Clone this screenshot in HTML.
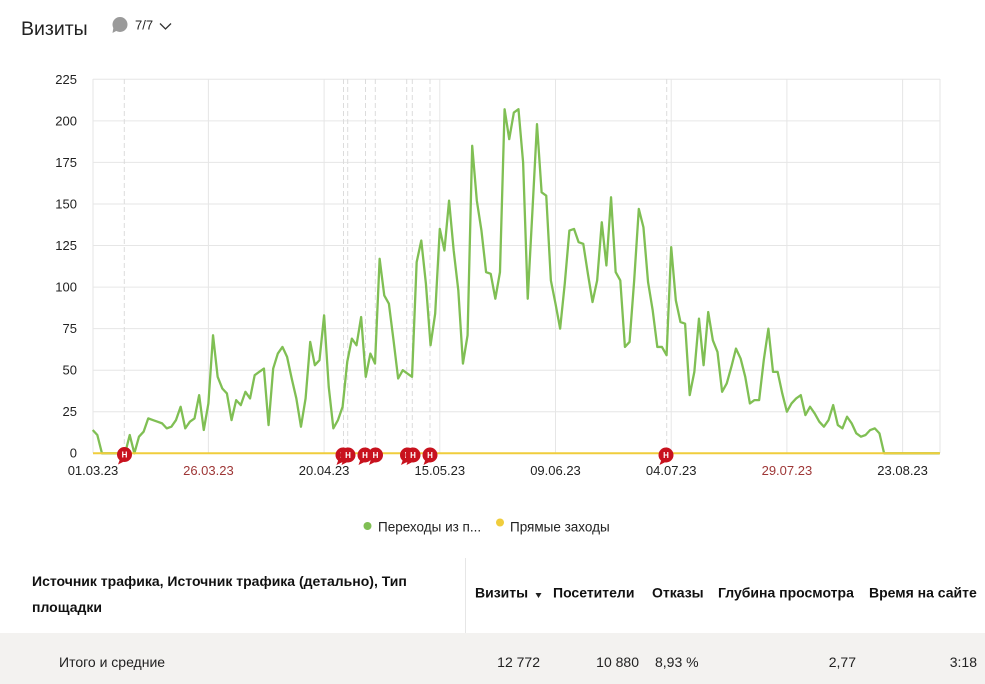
<!DOCTYPE html>
<html><head><meta charset="utf-8">
<style>
html,body{margin:0;padding:0;background:#fff;}
body{width:985px;height:684px;overflow:hidden;position:relative;font-family:"Liberation Sans","Noto Sans CJK SC",sans-serif;}
svg{position:absolute;left:0;top:0;}
</style></head>
<body>
<svg width="985" height="684" viewBox="0 0 985 684" xmlns="http://www.w3.org/2000/svg" font-family="Liberation Sans, Noto Sans CJK SC, sans-serif">
  <!-- header -->
  <text x="21" y="35" font-size="19.5" fill="#222">Визиты</text>
  <g fill="#9a9a9a">
    <circle cx="120" cy="24.5" r="7.5"/>
    <path d="M113.5 27 L112.5 33 L118 30 Z"/>
  </g>
  <text x="135" y="29.5" font-size="13" fill="#222">7/7</text>
  <path d="M160 23.5 L165.5 29 L171 23.5" fill="none" stroke="#333" stroke-width="1.3"/>

  <!-- horizontal grid -->
  <g stroke="#e6e6e6" stroke-width="1">
    <line x1="93" x2="940" y1="79.3" y2="79.3"/>
    <line x1="93" x2="940" y1="120.9" y2="120.9"/>
    <line x1="93" x2="940" y1="162.4" y2="162.4"/>
    <line x1="93" x2="940" y1="204" y2="204"/>
    <line x1="93" x2="940" y1="245.5" y2="245.5"/>
    <line x1="93" x2="940" y1="287.1" y2="287.1"/>
    <line x1="93" x2="940" y1="328.6" y2="328.6"/>
    <line x1="93" x2="940" y1="370.2" y2="370.2"/>
    <line x1="93" x2="940" y1="411.7" y2="411.7"/>
    <!-- vertical solid -->
    <line x1="93" x2="93" y1="79" y2="453"/>
    <line x1="208.4" x2="208.4" y1="79" y2="453"/>
    <line x1="324.1" x2="324.1" y1="79" y2="453"/>
    <line x1="439.8" x2="439.8" y1="79" y2="453"/>
    <line x1="555.5" x2="555.5" y1="79" y2="453"/>
    <line x1="671.2" x2="671.2" y1="79" y2="453"/>
    <line x1="786.9" x2="786.9" y1="79" y2="453"/>
    <line x1="902.6" x2="902.6" y1="79" y2="453"/>
    <line x1="940" x2="940" y1="79" y2="453"/>
  </g>
  <!-- dashed annotation lines -->
  <g stroke="#dcdcdc" stroke-width="1" stroke-dasharray="5,3">
    <line x1="124.3" x2="124.3" y1="79" y2="453"/>
    <line x1="343.5" x2="343.5" y1="79" y2="453"/>
    <line x1="347.7" x2="347.7" y1="79" y2="453"/>
    <line x1="365.5" x2="365.5" y1="79" y2="453"/>
    <line x1="375.3" x2="375.3" y1="79" y2="453"/>
    <line x1="406.7" x2="406.7" y1="79" y2="453"/>
    <line x1="412.3" x2="412.3" y1="79" y2="453"/>
    <line x1="430" x2="430" y1="79" y2="453"/>
    <line x1="666.7" x2="666.7" y1="79" y2="453"/>
  </g>

  <!-- y labels -->
  <g font-size="13" fill="#222" text-anchor="end">
    <text x="77" y="84">225</text>
    <text x="77" y="125.5">200</text>
    <text x="77" y="167">175</text>
    <text x="77" y="208.5">150</text>
    <text x="77" y="250">125</text>
    <text x="77" y="291.5">100</text>
    <text x="77" y="333">75</text>
    <text x="77" y="374.5">50</text>
    <text x="77" y="416">25</text>
    <text x="77" y="457.5">0</text>
  </g>

  <!-- series -->
  <g transform="translate(92.7,453.3) scale(4.628,-1.6622)">
    <path fill="none" stroke="#80bf54" stroke-width="2.3" stroke-linejoin="round" vector-effect="non-scaling-stroke"
      d="M0 14 L1 11 L2 0 L3 0 L4 0 L5 0 L6 0 L7 0 L8 11 L9 0 L10 10 L11 13 L12 21 L13 20 L14 19 L15 18 L16 15 L17 16 L18 20 L19 28 L20 15 L21 19 L22 21 L23 35 L24 14 L25 30 L26 71 L27 46 L28 39 L29 36 L30 20 L31 32 L32 29 L33 37 L34 33 L35 47 L36 49 L37 51 L38 17 L39 51 L40 60 L41 64 L42 58 L43 45 L44 33 L45 16 L46 33 L47 67 L48 53 L49 56 L50 83 L51 40 L52 15 L53 20 L54 28 L55 55 L56 69 L57 65 L58 82 L59 46 L60 60 L61 54 L62 117 L63 95 L64 90 L65 68 L66 45 L67 50 L68 48 L69 46 L70 115 L71 128 L72 102 L73 65 L74 84 L75 135 L76 122 L77 152 L78 122 L79 98 L80 54 L81 71 L82 185 L83 152 L84 134 L85 109 L86 108 L87 93 L88 109 L89 207 L90 189 L91 205 L92 207 L93 175 L94 93 L95 145 L96 198 L97 157 L98 155 L99 104 L100 90 L101 75 L102 102 L103 134 L104 135 L105 127 L106 126 L107 108 L108 91 L109 104 L110 139 L111 113 L112 154 L113 109 L114 104 L115 64 L116 67 L117 104 L118 147 L119 136 L120 103 L121 86 L122 64 L123 64 L124 59 L125 124 L126 92 L127 79 L128 78 L129 35 L130 49 L131 81 L132 53 L133 85 L134 68 L135 61 L136 37 L137 42 L138 52 L139 63 L140 57 L141 46 L142 30 L143 32 L144 32 L145 56 L146 75 L147 49 L148 49 L149 36 L150 25 L151 30 L152 33 L153 35 L154 23 L155 28 L156 24 L157 19 L158 16 L159 20 L160 29 L161 17 L162 15 L163 22 L164 18 L165 12 L166 10 L167 11 L168 14 L169 15 L170 12 L171 0 L183 0"/>
  </g>
  <line x1="93" x2="940" y1="453.3" y2="453.3" stroke="#f0cd3c" stroke-width="2"/>

  <!-- annotation markers -->
  <defs>
    <g id="mk">
      <path d="M-4.5 4.5 L-6.5 10 L-0.5 7 Z" fill="#c8121e"/>
      <circle cx="0" cy="0" r="7.5" fill="#c8121e"/>
      <text x="0" y="3" font-size="8" font-weight="bold" fill="#fff" text-anchor="middle">Н</text>
    </g>
  </defs>
  <use href="#mk" x="124.5" y="454.5"/>
  <use href="#mk" x="343" y="455"/>
  <use href="#mk" x="348" y="455"/>
  <use href="#mk" x="365" y="455"/>
  <use href="#mk" x="375.5" y="455"/>
  <use href="#mk" x="407.5" y="455"/>
  <use href="#mk" x="413" y="455"/>
  <use href="#mk" x="430" y="455"/>
  <use href="#mk" x="666" y="455"/>

  <!-- x labels -->
  <g font-size="13" fill="#222" text-anchor="middle">
    <text x="93" y="475">01.03.23</text>
    <text x="208.4" y="475" fill="#9e3636">26.03.23</text>
    <text x="324.1" y="475">20.04.23</text>
    <text x="439.8" y="475">15.05.23</text>
    <text x="555.5" y="475">09.06.23</text>
    <text x="671.2" y="475">04.07.23</text>
    <text x="786.9" y="475" fill="#9e3636">29.07.23</text>
    <text x="902.6" y="475">23.08.23</text>
  </g>

  <!-- legend -->
  <circle cx="367.5" cy="526" r="4" fill="#80bf54"/>
  <text x="378" y="531.5" font-size="13.5" fill="#222">Переходы из п...</text>
  <circle cx="500" cy="522.5" r="4" fill="#f0cd3c"/>
  <text x="510" y="531.5" font-size="13.5" fill="#222">Прямые заходы</text>

  <!-- table -->
  <rect x="0" y="633" width="985" height="51" fill="#f3f2f0"/>
  <line x1="465.5" x2="465.5" y1="558" y2="633" stroke="#e6e6e6" stroke-width="1"/>
  <g font-size="14" font-weight="bold" fill="#111">
    <text x="32" y="586">Источник трафика, Источник трафика (детально), Тип</text>
    <text x="32" y="612">площадки</text>
    <text x="475" y="597.5">Визиты</text>
    <text x="553" y="597.5">Посетители</text>
    <text x="652" y="597.5">Отказы</text>
    <text x="718" y="597.5">Глубина просмотра</text>
    <text x="869" y="597.5">Время на сайте</text>
  </g>
  <path d="M535.5 593 L541.5 593 L538.5 598 Z" fill="#222"/>
  <g font-size="14" fill="#222">
    <text x="59" y="667">Итого и средние</text>
    <text x="540" y="667" text-anchor="end">12 772</text>
    <text x="639" y="667" text-anchor="end">10 880</text>
    <text x="655" y="667">8,93 %</text>
    <text x="856" y="667" text-anchor="end">2,77</text>
    <text x="977" y="667" text-anchor="end">3:18</text>
  </g>
</svg>
</body></html>
